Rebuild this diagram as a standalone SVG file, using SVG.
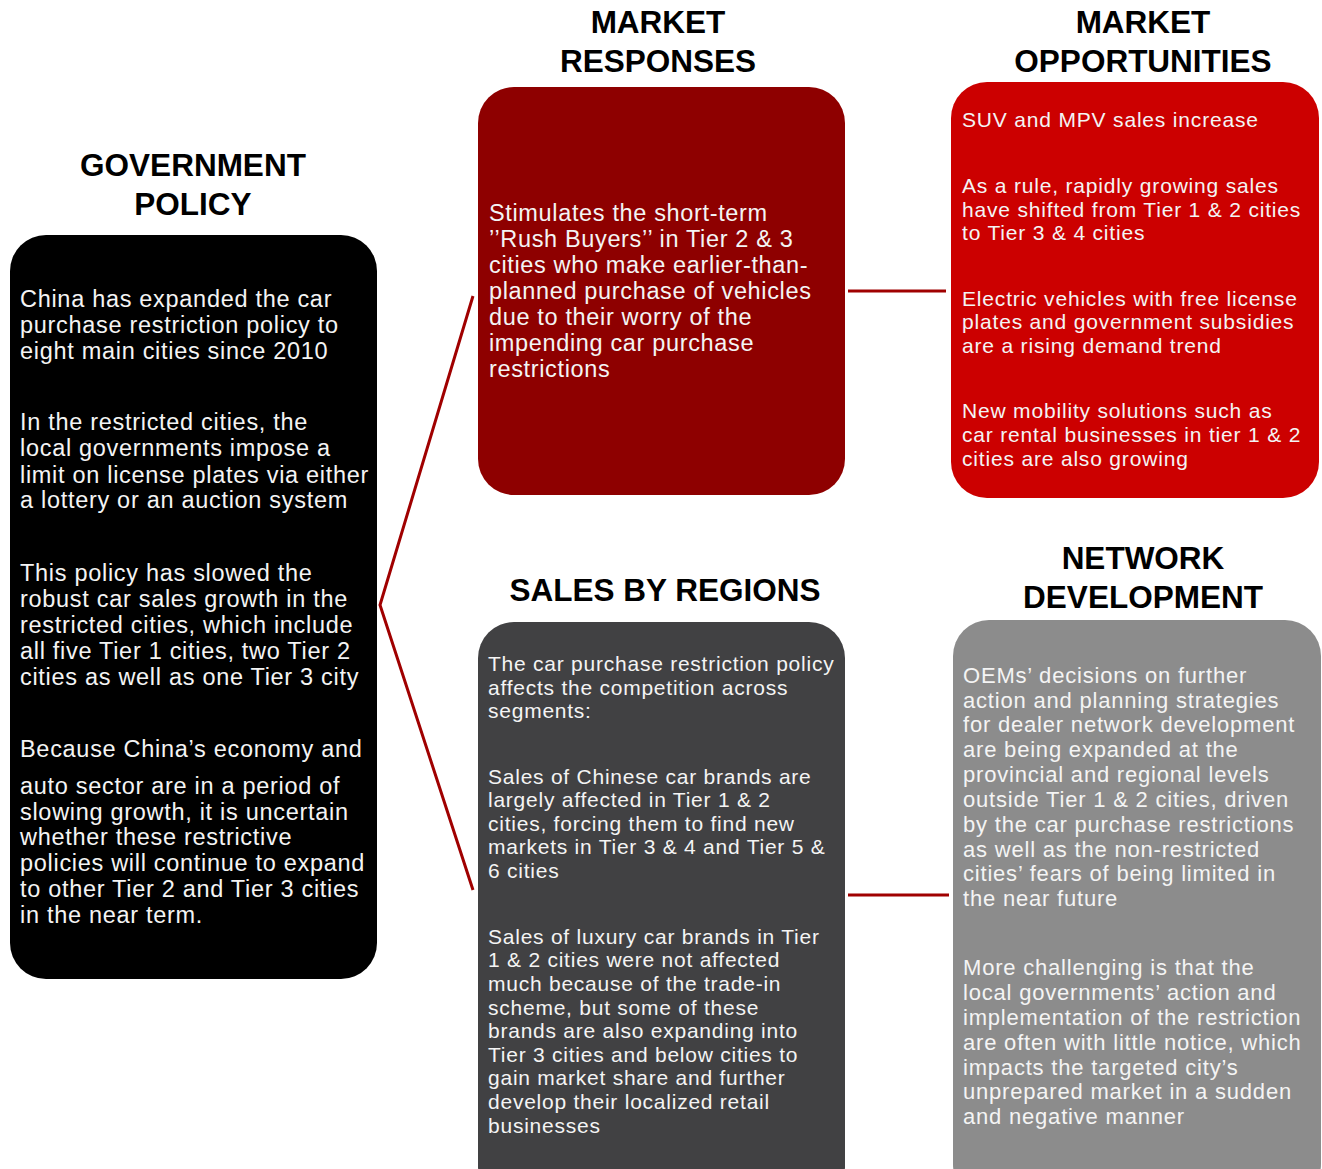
<svg xmlns="http://www.w3.org/2000/svg" width="1322" height="1169" viewBox="0 0 1322 1169">
<style>
.title{font-family:"Liberation Sans",Arial,sans-serif;font-weight:bold;font-size:31.5px;fill:#000;text-anchor:middle}
.t{font-family:"Liberation Sans",Arial,sans-serif;fill:#f4f4f4}
.g{font-size:23.5px;letter-spacing:0.7px}
.mr{font-size:23.5px;letter-spacing:0.65px}
.mo{font-size:21px;letter-spacing:0.82px}
.sr{font-size:21px;letter-spacing:0.76px}
.nd{font-size:22px;letter-spacing:0.8px}
.conn{stroke:#a00000;stroke-width:3;fill:none}
</style>
<rect width="1322" height="1169" fill="#ffffff"/>
<g id="connectors">
<polyline class="conn" points="473,296 380,605 473,890"/>
<line class="conn" x1="848" y1="291" x2="946" y2="291"/>
<line class="conn" x1="848" y1="895" x2="949" y2="895"/>
</g>
<g id="government-policy">
<text class="title" x="193" y="176">GOVERNMENT</text>
<text class="title" x="193" y="215">POLICY</text>
<rect x="10" y="235" width="367" height="744" rx="36" fill="#000"/>
<text class="t g" x="20" y="307">China has expanded the car</text>
<text class="t g" x="20" y="333">purchase restriction policy to</text>
<text class="t g" x="20" y="359">eight main cities since 2010</text>
<text class="t g" x="20" y="430">In the restricted cities,  the</text>
<text class="t g" x="20" y="456">local governments impose a</text>
<text class="t g" x="20" y="483">limit on license plates via either</text>
<text class="t g" x="20" y="508">a lottery or an auction system</text>
<text class="t g" x="20" y="581">This policy has slowed the</text>
<text class="t g" x="20" y="607">robust car sales growth in the</text>
<text class="t g" x="20" y="633">restricted cities, which include</text>
<text class="t g" x="20" y="659">all five Tier 1 cities, two Tier 2</text>
<text class="t g" x="20" y="685">cities as well  as one Tier 3 city</text>
<text class="t g" x="20" y="757">Because China’s economy and</text>
<text class="t g" x="20" y="794">auto sector are in a period of</text>
<text class="t g" x="20" y="820">slowing growth, it is uncertain</text>
<text class="t g" x="20" y="845">whether these restrictive</text>
<text class="t g" x="20" y="871">policies will continue to expand</text>
<text class="t g" x="20" y="897">to other Tier 2 and Tier 3 cities</text>
<text class="t g" x="20" y="923">in the near term.</text>
</g>
<g id="market-responses">
<text class="title" x="658" y="33">MARKET</text>
<text class="title" x="658" y="72">RESPONSES</text>
<rect x="478" y="87" width="367" height="408" rx="36" fill="#8e0000"/>
<text class="t mr" x="489" y="221">Stimulates the short-term</text>
<text class="t mr" x="489" y="247">’’Rush Buyers’’ in Tier 2 &amp; 3</text>
<text class="t mr" x="489" y="273">cities who make earlier-than-</text>
<text class="t mr" x="489" y="299">planned  purchase of vehicles</text>
<text class="t mr" x="489" y="325">due to their worry of the</text>
<text class="t mr" x="489" y="351">impending  car purchase</text>
<text class="t mr" x="489" y="377">restrictions</text>
</g>
<g id="market-opportunities">
<text class="title" x="1143" y="33">MARKET</text>
<text class="title" x="1143" y="72">OPPORTUNITIES</text>
<rect x="951" y="82" width="368" height="416" rx="36" fill="#cc0000"/>
<text class="t mo" x="962" y="127">SUV  and MPV  sales increase</text>
<text class="t mo" x="962" y="193">As a rule, rapidly growing sales</text>
<text class="t mo" x="962" y="217">have shifted from Tier 1 &amp; 2 cities</text>
<text class="t mo" x="962" y="240">to Tier 3 &amp; 4 cities</text>
<text class="t mo" x="962" y="306">Electric vehicles with free license</text>
<text class="t mo" x="962" y="329">plates and government subsidies</text>
<text class="t mo" x="962" y="353">are a rising demand  trend</text>
<text class="t mo" x="962" y="418">New mobility solutions such as</text>
<text class="t mo" x="962" y="442">car rental businesses in tier 1 &amp; 2</text>
<text class="t mo" x="962" y="466">cities are also growing</text>
</g>
<g id="sales-by-regions">
<text class="title" x="665" y="601">SALES BY REGIONS</text>
<rect x="478" y="622" width="367" height="580" rx="36" fill="#414143"/>
<text class="t sr" x="488" y="671">The  car purchase restriction policy</text>
<text class="t sr" x="488" y="695">affects the competition across</text>
<text class="t sr" x="488" y="718">segments:</text>
<text class="t sr" x="488" y="784">Sales of Chinese car brands are</text>
<text class="t sr" x="488" y="807">largely affected in Tier 1 &amp; 2</text>
<text class="t sr" x="488" y="831">cities, forcing them to find new</text>
<text class="t sr" x="488" y="854">markets in Tier 3 &amp; 4 and Tier 5 &amp;</text>
<text class="t sr" x="488" y="878">6 cities</text>
<text class="t sr" x="488" y="944">Sales of luxury car brands in Tier</text>
<text class="t sr" x="488" y="967">1 &amp; 2 cities were not affected</text>
<text class="t sr" x="488" y="991">much  because of the trade-in</text>
<text class="t sr" x="488" y="1015">scheme, but some of these</text>
<text class="t sr" x="488" y="1038">brands are also expanding  into</text>
<text class="t sr" x="488" y="1062">Tier 3 cities and below cities to</text>
<text class="t sr" x="488" y="1085">gain market share and further</text>
<text class="t sr" x="488" y="1109">develop their localized retail</text>
<text class="t sr" x="488" y="1133">businesses</text>
</g>
<g id="network-development">
<text class="title" x="1143" y="569">NETWORK</text>
<text class="title" x="1143" y="608">DEVELOPMENT</text>
<rect x="953" y="620" width="368" height="580" rx="36" fill="#8c8c8c"/>
<text class="t nd" x="963" y="683">OEMs’ decisions on further</text>
<text class="t nd" x="963" y="708">action and planning  strategies</text>
<text class="t nd" x="963" y="732">for dealer network  development</text>
<text class="t nd" x="963" y="757">are being expanded  at the</text>
<text class="t nd" x="963" y="782">provincial and regional levels</text>
<text class="t nd" x="963" y="807">outside Tier 1 &amp; 2 cities, driven</text>
<text class="t nd" x="963" y="832">by the car purchase  restrictions</text>
<text class="t nd" x="963" y="857">as well as the non-restricted</text>
<text class="t nd" x="963" y="881">cities’ fears of being limited in</text>
<text class="t nd" x="963" y="906">the near future</text>
<text class="t nd" x="963" y="975">More challenging  is that the</text>
<text class="t nd" x="963" y="1000">local governments’ action and</text>
<text class="t nd" x="963" y="1025">implementation  of the restriction</text>
<text class="t nd" x="963" y="1050">are often with little notice, which</text>
<text class="t nd" x="963" y="1075">impacts the targeted city’s</text>
<text class="t nd" x="963" y="1099">unprepared  market in a sudden</text>
<text class="t nd" x="963" y="1124">and negative manner</text>
</g>
</svg>
